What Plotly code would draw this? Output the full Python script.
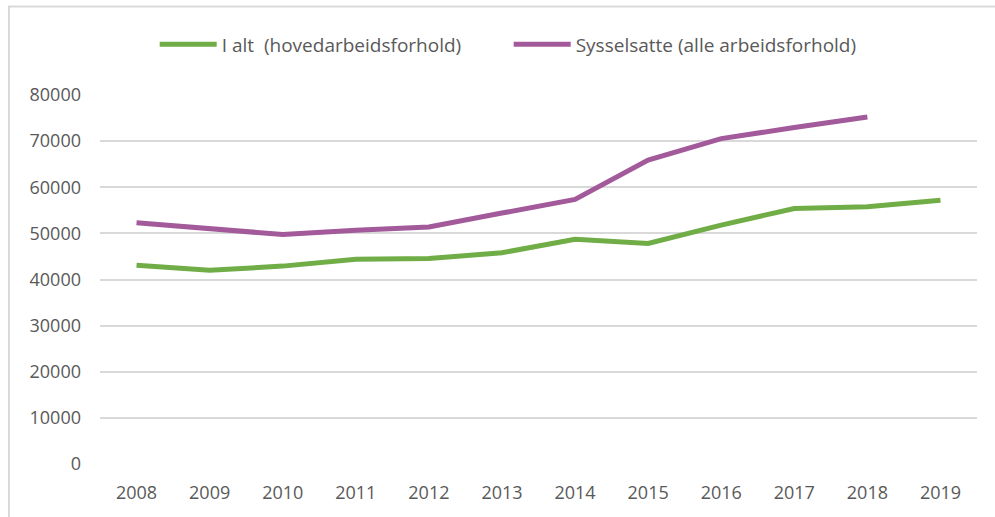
import plotly.graph_objects as go

years = ["2008", "2009", "2010", "2011", "2012", "2013", "2014", "2015", "2016", "2017", "2018", "2019"]
i_alt = [43100, 42000, 42900, 44400, 44550, 45800, 48700, 47800, 51800, 55400, 55750, 57200]
sysselsatte = [52300, 51050, 49750, 50700, 51400, 54400, 57350, 65900, 70550, 72950, 75250, None]
y_ticks = [0, 10000, 20000, 30000, 40000, 50000, 60000, 70000, 80000]

name_green = "I alt  (hovedarbeidsforhold)"
name_purple = "Sysselsatte (alle arbeidsforhold)"

GREEN = "#70AD47"
PURPLE = "#A25A9A"
TEXT = "#595959"
GRID = "#D9D9D9"
FONT = "Open Sans, Noto Sans, sans-serif"

fig = go.Figure()
fig.add_trace(go.Scatter(x=years, y=i_alt, mode="lines", name=name_green,
                         line=dict(color=GREEN, width=5)))
fig.add_trace(go.Scatter(x=years, y=sysselsatte, mode="lines", name=name_purple,
                         line=dict(color=PURPLE, width=5)))

fig.update_layout(
    width=995, height=517,
    margin=dict(l=100, r=18, t=95, b=53),
    paper_bgcolor="white", plot_bgcolor="white",
    font=dict(family=FONT, color=TEXT, size=18),
    showlegend=True,
    legend=dict(orientation="h", x=0.466, xanchor="center", y=1.137, yanchor="middle",
                font=dict(size=19, color=TEXT, family=FONT), itemwidth=57,
                entrywidth=282, entrywidthmode="pixels",
                traceorder="normal", bgcolor="rgba(0,0,0,0)"),
    xaxis=dict(type="category", range=[-0.5, 11.5], showgrid=False, zeroline=False,
               showline=False, ticks="", ticklabelstandoff=16,
               tickfont=dict(size=18, color=TEXT, family=FONT)),
    yaxis=dict(range=[0, 80000], tickvals=y_ticks, ticktext=[str(v) for v in y_ticks],
               showgrid=True, gridcolor=GRID, gridwidth=1.5, zeroline=False,
               showline=False, ticks="", ticklabelstandoff=18,
               tickfont=dict(size=18, color=TEXT, family=FONT)),
    shapes=[dict(type="rect", xref="paper", yref="paper",
                 x0=-0.1038, x1=1.05, y0=-0.2, y1=1.2395,
                 line=dict(color=GRID, width=2), fillcolor="rgba(0,0,0,0)", layer="below")],
)

fig.write_html("out.html", config={"displayModeBar": False},
               post_script="document.body.style.margin='0';document.body.style.overflow='hidden';")
